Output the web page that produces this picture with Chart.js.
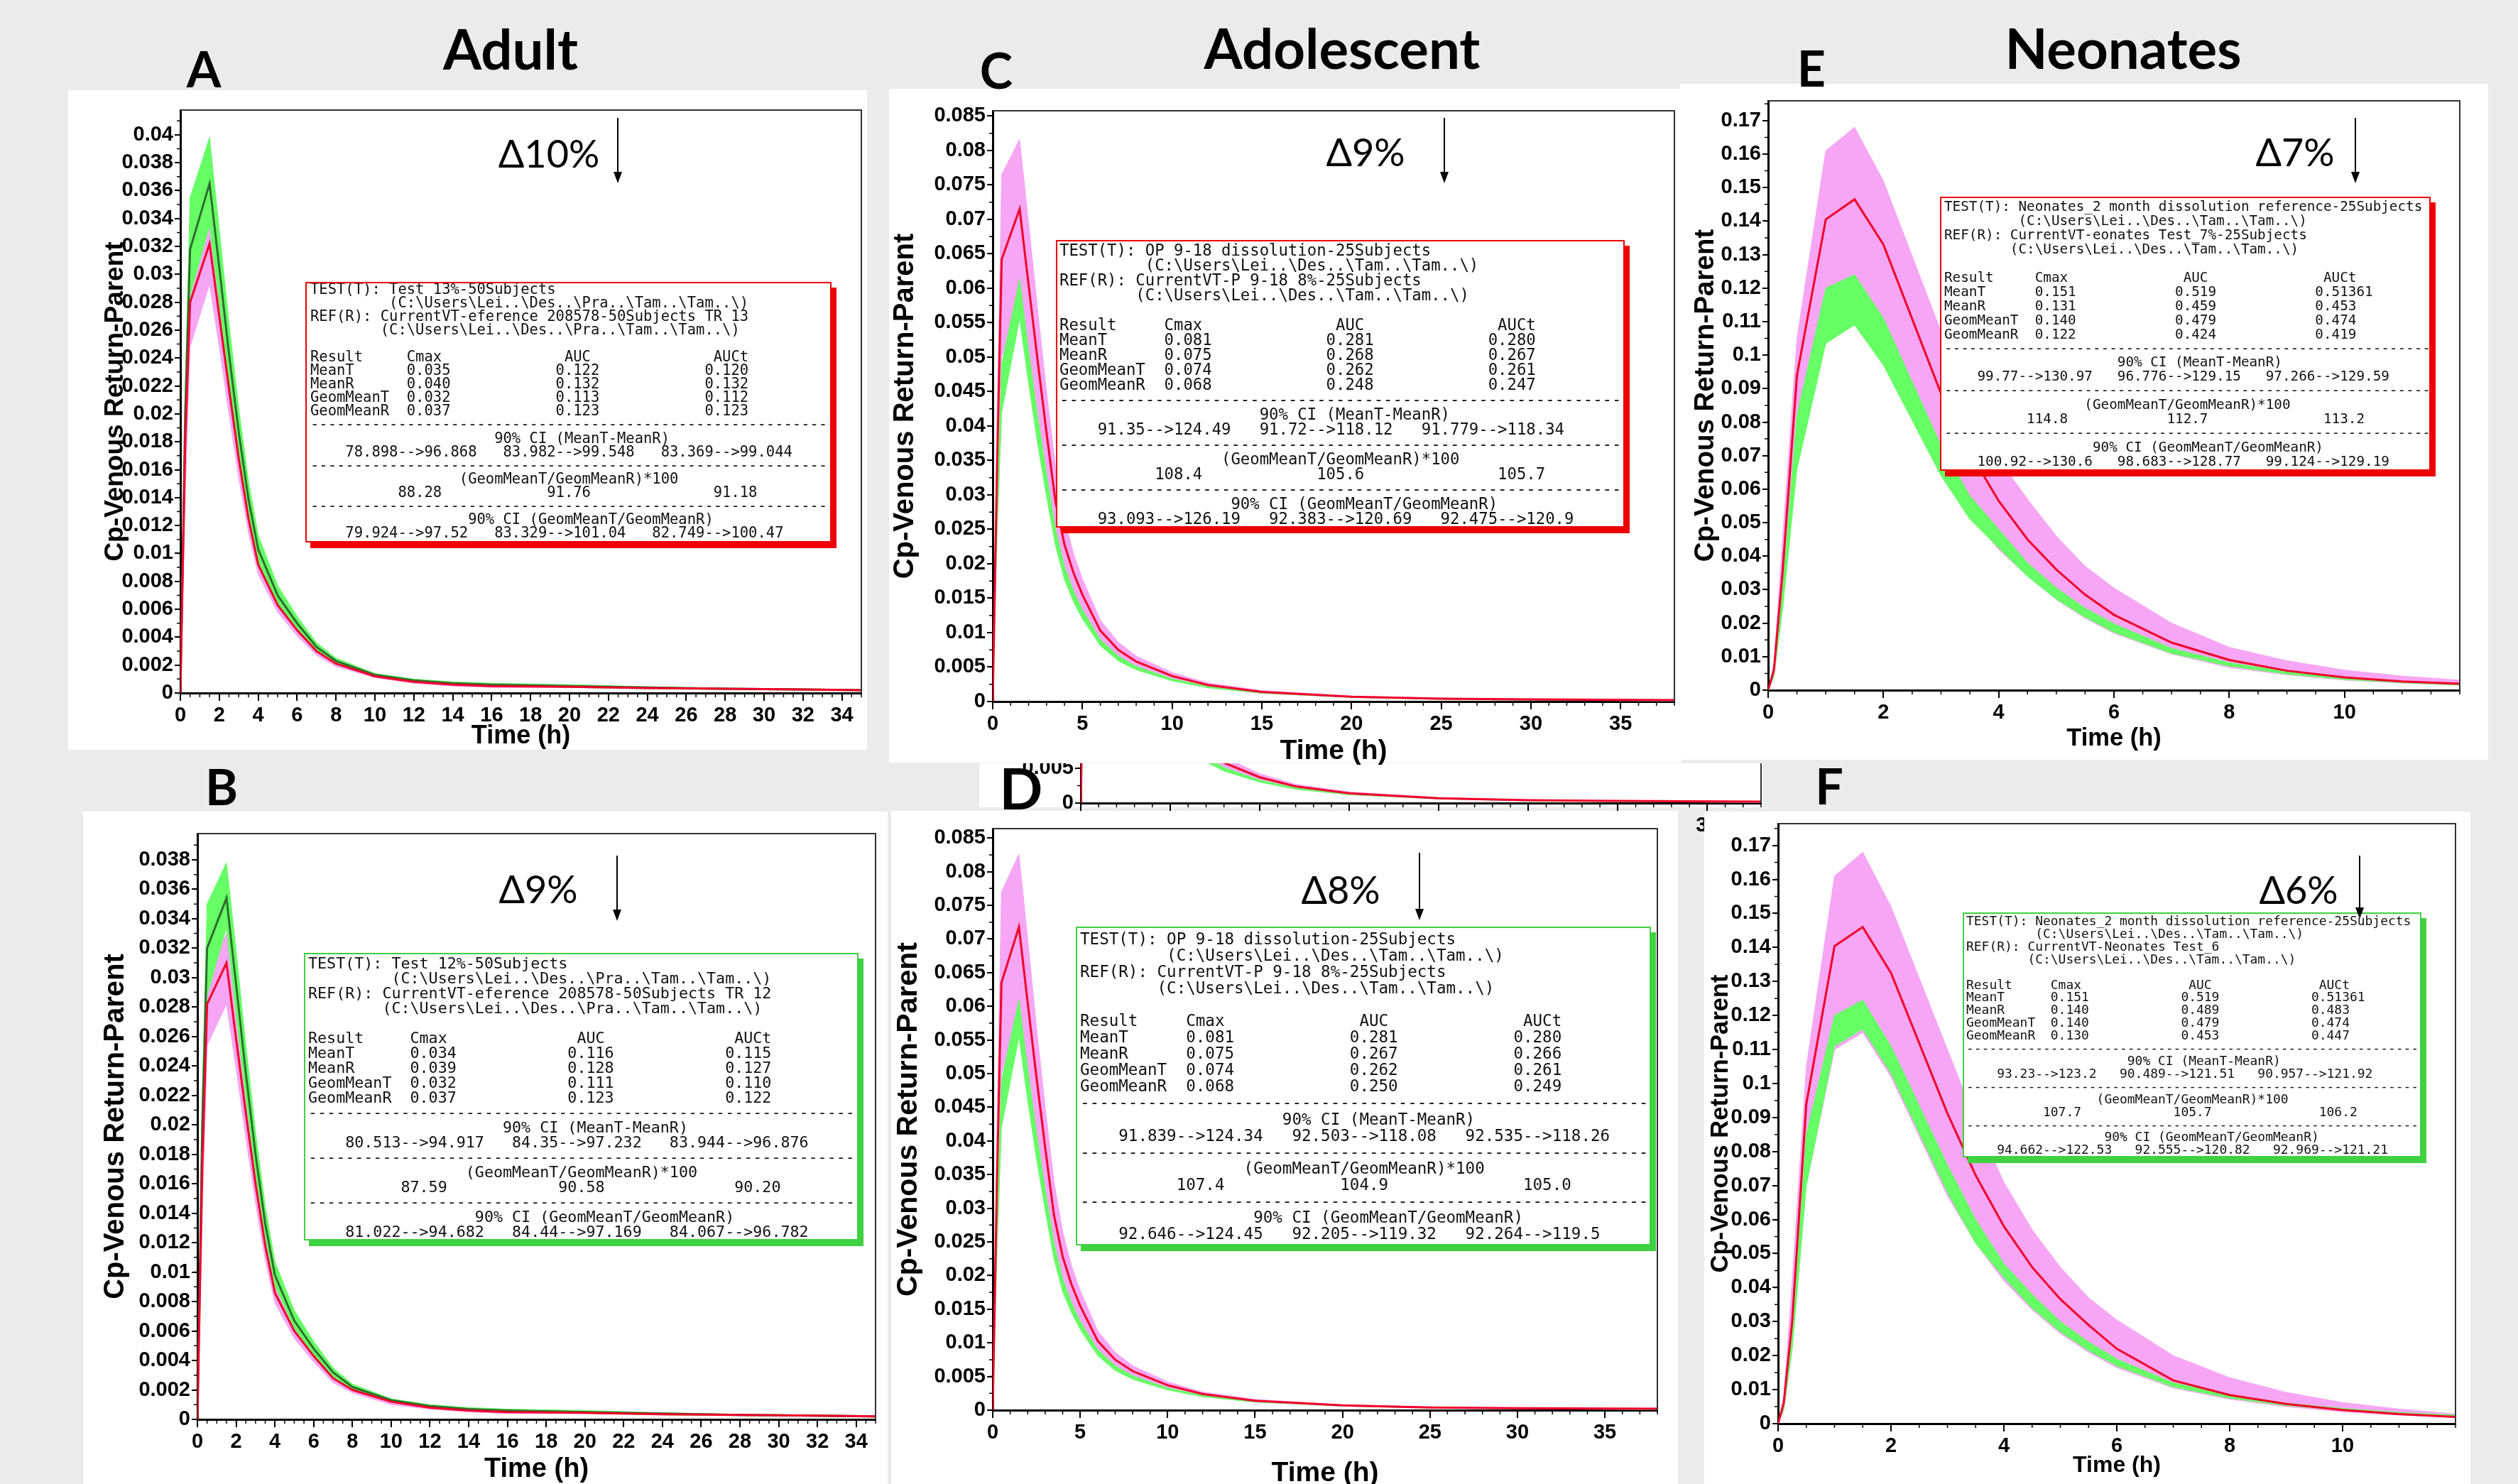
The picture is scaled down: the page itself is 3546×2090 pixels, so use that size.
<!DOCTYPE html>
<html>
<head>
<meta charset="utf-8">
<title>Cp-Venous Return-Parent</title>
<script src="https://cdn.jsdelivr.net/npm/chart.js"></script>
<style>
  html, body { margin: 0; padding: 0; }
  body { width: 3546px; height: 2090px; background: #ebebeb; position: relative; overflow: hidden; }
  .panel { position: absolute; background: #fff; }
  .abs { position: absolute; }
  .clip { position: absolute; overflow: hidden; }
  .head { position: absolute; transform: translate(-50%, -50%); font-family: Lato, 'Open Sans', sans-serif; font-weight: bold; line-height: 1; white-space: nowrap; color: #000; }
  .delta { position: absolute; transform: translate(-50%, -50%); font-family: Lato, 'Noto Sans', sans-serif; font-size: 54px; line-height: 1; white-space: nowrap; color: #000; }
  .stat { position: absolute; background: #fff; box-sizing: border-box; overflow: hidden; }
  .stat pre { margin: 0; position: absolute; font-family: 'DejaVu Sans Mono', monospace; color: #111; white-space: pre; }
</style>
</head>
<body>
<!-- white backgrounds of the six panels -->
<div class="panel" style="left:96px;top:127px;width:1125px;height:929px"></div>
<div class="panel" style="left:1252px;top:125px;width:1116px;height:949px"></div>
<div class="panel" style="left:2366px;top:118px;width:1138px;height:952px"></div>
<div class="panel" style="left:117px;top:1143px;width:1133px;height:947px"></div>
<div class="panel" style="left:1379px;top:1075px;width:1103px;height:62px"></div>
<div id="strip" class="clip" style="left:1379px;top:1075px;width:1121px;height:105px"></div>
<div class="panel" style="left:1255px;top:1142px;width:1108px;height:948px"></div>
<div class="panel" style="left:2400px;top:1143px;width:1079px;height:947px"></div>
<div id="charts"></div>
<div id="notes"></div>

<script>
// Time points (h) for each group of panels
const timeAB = [0, 0.25, 0.5, 1.5, 2, 2.5, 3, 3.5, 4, 5, 6, 7, 8, 10, 12, 14, 16, 20, 24, 28, 32, 35];
const timeCD = [0, 0.25, 0.5, 1.5, 2, 2.5, 3, 3.5, 4, 4.5, 5, 6, 7, 8, 10, 12, 15, 20, 25, 30, 38];
const timeEF = [0, 0.1, 0.25, 0.5, 1, 1.5, 2, 3, 3.5, 4, 4.5, 5, 5.5, 6, 7, 8, 9, 10, 11, 12];

// Panel A (Adult, test 13%)
const redA = [0, 0.018, 0.028, 0.0322, 0.027, 0.0218, 0.0168, 0.0125, 0.0092, 0.0063, 0.0045, 0.003, 0.0021, 0.0012, 0.0008, 0.0006, 0.0005, 0.00045, 0.00035, 0.0003, 0.00025, 0.0002];
const greenMeanA = [0, 0.02, 0.0318, 0.0365, 0.0305, 0.0243, 0.0187, 0.0139, 0.0103, 0.007, 0.005, 0.0033, 0.0023, 0.0013, 0.0009, 0.0007, 0.0006, 0.0005, 0.0004, 0.0003, 0.00025, 0.0002];
const greenHiA = [0, 0.022, 0.0355, 0.0398, 0.0332, 0.0265, 0.0204, 0.0152, 0.0113, 0.0077, 0.0055, 0.0036, 0.0025, 0.0014, 0.001, 0.0008, 0.0007, 0.0006, 0.00045, 0.00035, 0.0003, 0.00025];
const greenLoA = [0, 0.017, 0.0285, 0.0335, 0.028, 0.0222, 0.0171, 0.0127, 0.0094, 0.0064, 0.0046, 0.003, 0.0021, 0.0012, 0.0008, 0.0006, 0.0005, 0.0004, 0.0003, 0.00025, 0.0002, 0.00015];
const pinkHiA = [0, 0.019, 0.0305, 0.0348, 0.0292, 0.0236, 0.0182, 0.0135, 0.0099, 0.0068, 0.0048, 0.0032, 0.0022, 0.0013, 0.0009, 0.0007, 0.0006, 0.0005, 0.0004, 0.0003, 0.00025, 0.0002];
const pinkLoA = [0, 0.014, 0.0248, 0.0293, 0.0248, 0.02, 0.0154, 0.0115, 0.0085, 0.0058, 0.0041, 0.0027, 0.0019, 0.0011, 0.0007, 0.0005, 0.0004, 0.0004, 0.0003, 0.00025, 0.0002, 0.00015];

// Panel B (Adult, test 12%)
const redB = [0, 0.017, 0.0282, 0.031, 0.0258, 0.0208, 0.016, 0.0118, 0.0086, 0.006, 0.0043, 0.0028, 0.002, 0.0012, 0.0008, 0.0006, 0.0005, 0.00045, 0.00035, 0.0003, 0.00025, 0.0002];
const greenMeanB = [0, 0.02, 0.032, 0.0354, 0.0295, 0.0235, 0.018, 0.0133, 0.0098, 0.0067, 0.0048, 0.0032, 0.0022, 0.0013, 0.0009, 0.0007, 0.0006, 0.0005, 0.0004, 0.0003, 0.00025, 0.0002];
const greenHiB = [0, 0.022, 0.035, 0.0378, 0.0318, 0.0254, 0.0195, 0.0145, 0.0107, 0.0074, 0.0053, 0.0035, 0.0024, 0.0014, 0.001, 0.0008, 0.0007, 0.0006, 0.00045, 0.00035, 0.0003, 0.00025];
const greenLoB = [0, 0.017, 0.0288, 0.0334, 0.0275, 0.0218, 0.0167, 0.0124, 0.0091, 0.0062, 0.0044, 0.0029, 0.002, 0.0012, 0.0008, 0.0006, 0.0005, 0.0004, 0.0003, 0.00025, 0.0002, 0.00015];
const pinkHiB = [0, 0.019, 0.03, 0.033, 0.0278, 0.0225, 0.0173, 0.0128, 0.0094, 0.0065, 0.0046, 0.0031, 0.0021, 0.0013, 0.0009, 0.0007, 0.0006, 0.0005, 0.0004, 0.0003, 0.00025, 0.0002];
const pinkLoB = [0, 0.014, 0.0254, 0.0282, 0.0238, 0.0191, 0.0147, 0.0108, 0.0079, 0.0055, 0.0039, 0.0025, 0.0018, 0.001, 0.0007, 0.0005, 0.0004, 0.0004, 0.0003, 0.00025, 0.0002, 0.00015];

// Panel C (Adolescent)
const redC = [0, 0.035, 0.0642, 0.0715, 0.0605, 0.0496, 0.039, 0.029, 0.0228, 0.0187, 0.0155, 0.0103, 0.0075, 0.0058, 0.0037, 0.0024, 0.0014, 0.0007, 0.0004, 0.0003, 0.0002];
const pinkHiC = [0, 0.042, 0.0765, 0.0816, 0.0695, 0.057, 0.045, 0.034, 0.0265, 0.0215, 0.0178, 0.0118, 0.0086, 0.0066, 0.0042, 0.0027, 0.0016, 0.0008, 0.0005, 0.0003, 0.0002];
const pinkLoC = [0, 0.028, 0.05, 0.058, 0.049, 0.04, 0.031, 0.0235, 0.0185, 0.0152, 0.0126, 0.0085, 0.0062, 0.0048, 0.0031, 0.002, 0.0012, 0.0006, 0.0003, 0.0002, 0.0001];
const greenHiC = [0, 0.03, 0.049, 0.0613, 0.051, 0.0415, 0.033, 0.025, 0.0196, 0.0161, 0.0133, 0.009, 0.0066, 0.0051, 0.0033, 0.0022, 0.0013, 0.0007, 0.0004, 0.0003, 0.0002];
const greenLoC = [0, 0.025, 0.042, 0.0556, 0.0462, 0.0375, 0.0298, 0.0226, 0.0177, 0.0145, 0.012, 0.0081, 0.0059, 0.0046, 0.003, 0.002, 0.0012, 0.0006, 0.0003, 0.0002, 0.0001];

// Panel D (Adolescent, second test)
const redD = [0, 0.035, 0.0635, 0.0718, 0.0605, 0.0495, 0.039, 0.029, 0.0228, 0.0187, 0.0155, 0.0103, 0.0075, 0.0058, 0.0037, 0.0024, 0.0014, 0.0007, 0.0004, 0.0003, 0.0002];
const pinkHiD = [0, 0.043, 0.077, 0.0826, 0.07, 0.057, 0.045, 0.034, 0.0265, 0.0215, 0.0178, 0.0118, 0.0086, 0.0066, 0.0042, 0.0027, 0.0016, 0.0008, 0.0005, 0.0003, 0.0002];
const pinkLoD = [0, 0.027, 0.05, 0.058, 0.049, 0.04, 0.031, 0.0235, 0.0185, 0.0152, 0.0126, 0.0085, 0.0062, 0.0048, 0.0031, 0.002, 0.0012, 0.0006, 0.0003, 0.0002, 0.0001];
const greenHiD = [0, 0.03, 0.049, 0.061, 0.0508, 0.0413, 0.0328, 0.0249, 0.0195, 0.016, 0.0132, 0.009, 0.0066, 0.0051, 0.0033, 0.0022, 0.0013, 0.0007, 0.0004, 0.0003, 0.0002];
const greenLoD = [0, 0.024, 0.042, 0.0555, 0.046, 0.0374, 0.0297, 0.0225, 0.0176, 0.0145, 0.012, 0.0081, 0.0059, 0.0046, 0.003, 0.002, 0.0012, 0.0006, 0.0003, 0.0002, 0.0001];

// Panel E (Neonates, 7%)
const redE = [0, 0.006, 0.035, 0.094, 0.1405, 0.1465, 0.133, 0.0885, 0.071, 0.0565, 0.045, 0.036, 0.0285, 0.0225, 0.0142, 0.009, 0.0058, 0.0038, 0.0026, 0.0019];
const pinkHiE = [0, 0.008, 0.045, 0.105, 0.161, 0.168, 0.152, 0.107, 0.087, 0.069, 0.057, 0.046, 0.037, 0.0305, 0.02, 0.0128, 0.0088, 0.006, 0.0042, 0.003];
const pinkLoE = [0, 0.004, 0.025, 0.07, 0.104, 0.109, 0.098, 0.066, 0.052, 0.042, 0.034, 0.027, 0.0215, 0.017, 0.0108, 0.0068, 0.0046, 0.003, 0.0021, 0.0015];
const greenHiE = [0, 0.005, 0.03, 0.082, 0.12, 0.124, 0.111, 0.073, 0.058, 0.048, 0.038, 0.0305, 0.0245, 0.0198, 0.0125, 0.0082, 0.0055, 0.0037, 0.0025, 0.0018];
const greenLoE = [0, 0.004, 0.024, 0.066, 0.1035, 0.109, 0.097, 0.064, 0.051, 0.0425, 0.034, 0.0272, 0.0218, 0.0173, 0.011, 0.0072, 0.0048, 0.0032, 0.0022, 0.0015];

// Panel F (Neonates, 6%)
const redF = [0, 0.006, 0.03, 0.094, 0.1404, 0.146, 0.1325, 0.0912, 0.073, 0.058, 0.046, 0.0366, 0.029, 0.022, 0.0127, 0.0084, 0.0058, 0.004, 0.0028, 0.002];
const pinkHiF = [0, 0.008, 0.042, 0.105, 0.161, 0.168, 0.152, 0.11, 0.089, 0.071, 0.057, 0.046, 0.037, 0.0305, 0.02, 0.0135, 0.0092, 0.0062, 0.0043, 0.0028];
const pinkLoF = [0, 0.004, 0.022, 0.07, 0.11, 0.115, 0.102, 0.067, 0.053, 0.042, 0.0335, 0.0265, 0.021, 0.0165, 0.0105, 0.0072, 0.005, 0.0035, 0.0025, 0.0018];
const greenHiF = [0, 0.005, 0.028, 0.085, 0.12, 0.1245, 0.111, 0.076, 0.06, 0.047, 0.038, 0.03, 0.024, 0.019, 0.012, 0.0085, 0.006, 0.0045, 0.0033, 0.0025];
const greenLoF = [0, 0.004, 0.022, 0.07, 0.111, 0.116, 0.103, 0.068, 0.053, 0.043, 0.034, 0.027, 0.0215, 0.017, 0.0108, 0.0075, 0.0053, 0.004, 0.0029, 0.0021];

// Tick labels
const xTicksAB = [0, 2, 4, 6, 8, 10, 12, 14, 16, 18, 20, 22, 24, 26, 28, 30, 32, 34];
const xTicksCD = [0, 5, 10, 15, 20, 25, 30, 35];
const xTicksEF = [0, 2, 4, 6, 8, 10];
const yTicksA = [0, 0.002, 0.004, 0.006, 0.008, 0.01, 0.012, 0.014, 0.016, 0.018, 0.02, 0.022, 0.024, 0.026, 0.028, 0.03, 0.032, 0.034, 0.036, 0.038, 0.04];
const yTicksB = [0, 0.002, 0.004, 0.006, 0.008, 0.01, 0.012, 0.014, 0.016, 0.018, 0.02, 0.022, 0.024, 0.026, 0.028, 0.03, 0.032, 0.034, 0.036, 0.038];
const yTicksCD = [0, 0.005, 0.01, 0.015, 0.02, 0.025, 0.03, 0.035, 0.04, 0.045, 0.05, 0.055, 0.06, 0.065, 0.07, 0.075, 0.08, 0.085];
const yTicksEF = [0, 0.01, 0.02, 0.03, 0.04, 0.05, 0.06, 0.07, 0.08, 0.09, 0.1, 0.11, 0.12, 0.13, 0.14, 0.15, 0.16, 0.17];

const RED = '#f2002b';
const DKGREEN = '#2e6e2e';
const GREEN = '#66ff66';
const PINK = '#f6a6f4';
const BOX_RED = '#ee0000';
const BOX_GREEN = '#3fd13f';

// Frame on top/right of the plot and the small minor ticks
const frameTicks = {
    id: 'frameTicks',
    afterDraw(chart, args, opts) {
        const ctx = chart.ctx;
        const a = chart.chartArea;
        const x = chart.scales.x;
        const y = chart.scales.y;
        ctx.save();
        ctx.strokeStyle = '#333';
        ctx.lineWidth = 2;
        ctx.beginPath();
        ctx.moveTo(a.left, a.top);
        ctx.lineTo(a.right, a.top);
        ctx.lineTo(a.right, a.bottom);
        ctx.stroke();
        ctx.strokeStyle = '#000';
        ctx.lineWidth = 1.5;
        ctx.beginPath();
        for (let v = 0; v <= x.max + 1e-9; v += opts.xMinor) {
            const px = x.getPixelForValue(v);
            ctx.moveTo(px, a.bottom);
            ctx.lineTo(px, a.bottom + 6);
        }
        for (let v = 0; v <= y.max + 1e-9; v += opts.yMinor) {
            const py = y.getPixelForValue(v);
            ctx.moveTo(a.left, py);
            ctx.lineTo(a.left - 5, py);
        }
        ctx.stroke();
        ctx.restore();
    }
};
Chart.register(frameTicks);

function lineSet(t, v, color, width, order) {
    return { data: t.map((x, i) => ({ x: x, y: v[i] })), borderColor: color, borderWidth: width,
             pointRadius: 0, tension: 0, fill: false, order: order };
}

// upper edge fills down to the lower edge (next dataset)
function bandSets(t, hi, lo, color, order, index) {
    return [
        { data: t.map((x, i) => ({ x: x, y: hi[i] })), borderColor: color, borderWidth: 1, backgroundColor: color,
          pointRadius: 0, tension: 0, fill: index + 1, order: order },
        { data: t.map((x, i) => ({ x: x, y: lo[i] })), borderColor: color, borderWidth: 1,
          pointRadius: 0, tension: 0, fill: false, order: order }
    ];
}

const tickFont = { family: "'Liberation Sans', Arial, sans-serif", size: 29, weight: 'bold' };

function drawChart(p, parent, offX, offY) {
    const left = Math.round(p.yTitleX - 0.6 * p.ySize);
    const top = p.plot[1] - 30;
    const right = p.plot[2] + 14;
    const bottom = Math.round(p.xTitleY + 0.6 * p.xSize);
    const holder = document.createElement('div');
    holder.className = 'abs';
    holder.style.left = (left - offX) + 'px';
    holder.style.top = (top - offY) + 'px';
    const canvas = document.createElement('canvas');
    canvas.width = right - left;
    canvas.height = bottom - top;
    canvas.style.width = (right - left) + 'px';
    canvas.style.height = (bottom - top) + 'px';
    holder.appendChild(canvas);
    parent.appendChild(holder);

    const datasets = [lineSet(p.t, p.red, RED, 3, 0)];
    if (p.greenMean) datasets.push(lineSet(p.t, p.greenMean, DKGREEN, 3, 1));
    let n = datasets.length;
    datasets.push(...bandSets(p.t, p.gHi, p.gLo, GREEN, 2, n));
    n += 2;
    datasets.push(...bandSets(p.t, p.pHi, p.pLo, PINK, 3, n));

    new Chart(canvas, {
        type: 'line',
        data: { datasets: datasets },
        options: {
            responsive: false,
            animation: false,
            devicePixelRatio: 1,
            events: [],
            layout: { padding: { top: 30, right: 14, left: 0, bottom: 0 } },
            plugins: {
                legend: { display: false },
                tooltip: { enabled: false },
                frameTicks: { xMinor: p.xMinor, yMinor: p.yMinor }
            },
            scales: {
                x: {
                    type: 'linear', min: 0, max: p.xMax,
                    afterFit: s => { s.height = bottom - p.plot[3]; },
                    afterBuildTicks: s => { s.ticks = p.xTicks.map(v => ({ value: v })); },
                    ticks: { autoSkip: false, maxRotation: 0, padding: 4, color: '#000', font: tickFont },
                    grid: { drawOnChartArea: false, drawTicks: true, tickLength: 11, color: '#000', lineWidth: 2 },
                    border: { display: true, color: '#000', width: 3 },
                    title: { display: true, text: 'Time (h)', color: '#000', padding: 0,
                             font: { family: tickFont.family, size: p.xSize, weight: 'bold' } }
                },
                y: {
                    type: 'linear', min: 0, max: p.yMax,
                    afterFit: s => { s.width = p.plot[0] - left; },
                    afterBuildTicks: s => { s.ticks = p.yTicks.map(v => ({ value: v })); },
                    ticks: { autoSkip: false, padding: 2, color: '#000', font: tickFont,
                             callback: v => String(+(+v).toFixed(4)) },
                    grid: { drawOnChartArea: false, drawTicks: true, tickLength: 8, color: '#000', lineWidth: 2 },
                    border: { display: true, color: '#000', width: 3 },
                    title: { display: true, text: 'Cp-Venous Return-Parent', color: '#000', padding: 0,
                             font: { family: tickFont.family, size: p.ySize, weight: 'bold' } }
                }
            }
        }
    });
}

const panels = [
    { plot: [254, 155, 1213, 976], yTitleX: 163, ySize: 37, xTitleY: 1037, xSize: 36, xMax: 35, yMax: 0.04177,
      xTicks: xTicksAB, yTicks: yTicksA, xMinor: 0.5, yMinor: 0.001,
      t: timeAB, red: redA, greenMean: greenMeanA, gHi: greenHiA, gLo: greenLoA, pHi: pinkHiA, pLo: pinkLoA },
    { plot: [1398, 156, 2358, 988], yTitleX: 1275, ySize: 40, xTitleY: 1059, xSize: 39, xMax: 38, yMax: 0.08576,
      xTicks: xTicksCD, yTicks: yTicksCD, xMinor: 1, yMinor: 0.0025,
      t: timeCD, red: redC, gHi: greenHiC, gLo: greenLoC, pHi: pinkHiC, pLo: pinkLoC },
    { plot: [2490, 142, 3464, 972], yTitleX: 2402, ySize: 38.5, xTitleY: 1040, xSize: 34.5, xMax: 12, yMax: 0.1759,
      xTicks: xTicksEF, yTicks: yTicksEF, xMinor: 0.5, yMinor: 0.005,
      t: timeEF, red: redE, gHi: greenHiE, gLo: greenLoE, pHi: pinkHiE, pLo: pinkLoE },
    { plot: [278, 1174, 1233, 1999], yTitleX: 163, ySize: 40, xTitleY: 2069, xSize: 38, xMax: 35, yMax: 0.03978,
      xTicks: xTicksAB, yTicks: yTicksB, xMinor: 0.5, yMinor: 0.001,
      t: timeAB, red: redB, greenMean: greenMeanB, gHi: greenHiB, gLo: greenLoB, pHi: pinkHiB, pLo: pinkLoB },
    { plot: [1398, 1167, 2334, 1986], yTitleX: 1280, ySize: 41, xTitleY: 2076, xSize: 39, xMax: 38, yMax: 0.0864,
      xTicks: xTicksCD, yTicks: yTicksCD, xMinor: 1, yMinor: 0.0025,
      t: timeCD, red: redD, gHi: greenHiD, gLo: greenLoD, pHi: pinkHiD, pLo: pinkLoD },
    { plot: [2504, 1160, 3458, 2005], yTitleX: 2424, ySize: 34.5, xTitleY: 2064, xSize: 32, xMax: 12, yMax: 0.1764,
      xTicks: xTicksEF, yTicks: yTicksEF, xMinor: 0.5, yMinor: 0.005,
      t: timeEF, red: redF, gHi: greenHiF, gLo: greenLoF, pHi: pinkHiF, pLo: pinkLoF }
];

// the stray strip of another chart pasted between C and D
const stripPanel = { plot: [1522, 284, 2480, 1131], yTitleX: 1402, ySize: 40, xTitleY: 1216, xSize: 39, xMax: 38, yMax: 0.0864,
      xTicks: xTicksCD, yTicks: yTicksCD, xMinor: 1, yMinor: 0.0025,
      t: timeCD, red: redD, gHi: greenHiD, gLo: greenLoD, pHi: pinkHiD, pLo: pinkLoD };

drawChart(stripPanel, document.getElementById('strip'), 1379, 1075);
const chartLayer = document.getElementById('charts');
panels.forEach(p => drawChart(p, chartLayer, 0, 0));

// Statistics boxes
const PATH_PRA = '(C:\\Users\\Lei..\\Des..\\Pra..\\Tam..\\Tam..\\)';
const PATH_TAM = '(C:\\Users\\Lei..\\Des..\\Tam..\\Tam..\\)';

function statLines(test, ref, path, rows, ciMean, ratio, ciGeom) {
    const dash = '-'.repeat(64);
    return [
        'TEST(T): ' + test,
        ' '.repeat(9) + path,
        'REF(R): ' + ref,
        ' '.repeat(8) + path,
        '',
        'Result'.padEnd(11) + 'Cmax'.padEnd(18) + 'AUC'.padEnd(17) + 'AUCt',
        ...rows.map(r => r[0].padEnd(11) + r[1].padEnd(17) + r[2].padEnd(17) + r[3]),
        dash,
        ' '.repeat(21) + '90% CI (MeanT-MeanR)',
        '    ' + ciMean.join('   '),
        dash,
        ' '.repeat(17) + '(GeomMeanT/GeomMeanR)*100',
        ' '.repeat(10) + ratio[0].padEnd(17) + ratio[1].padEnd(19) + ratio[2],
        dash,
        ' '.repeat(18) + '90% CI (GeomMeanT/GeomMeanR)',
        '    ' + ciGeom.join('   ')
    ].join('\n');
}

const statA = statLines('Test 13%-50Subjects', 'CurrentVT-eference 208578-50Subjects TR 13', PATH_PRA,
    [['MeanT', '0.035', '0.122', '0.120'], ['MeanR', '0.040', '0.132', '0.132'],
     ['GeomMeanT', '0.032', '0.113', '0.112'], ['GeomMeanR', '0.037', '0.123', '0.123']],
    ['78.898-->96.868', '83.982-->99.548', '83.369-->99.044'], ['88.28', '91.76', '91.18'],
    ['79.924-->97.52', '83.329-->101.04', '82.749-->100.47']);
const statB = statLines('Test 12%-50Subjects', 'CurrentVT-eference 208578-50Subjects TR 12', PATH_PRA,
    [['MeanT', '0.034', '0.116', '0.115'], ['MeanR', '0.039', '0.128', '0.127'],
     ['GeomMeanT', '0.032', '0.111', '0.110'], ['GeomMeanR', '0.037', '0.123', '0.122']],
    ['80.513-->94.917', '84.35-->97.232', '83.944-->96.876'], ['87.59', '90.58', '90.20'],
    ['81.022-->94.682', '84.44-->97.169', '84.067-->96.782']);
const statC = statLines('OP 9-18 dissolution-25Subjects', 'CurrentVT-P 9-18 8%-25Subjects', PATH_TAM,
    [['MeanT', '0.081', '0.281', '0.280'], ['MeanR', '0.075', '0.268', '0.267'],
     ['GeomMeanT', '0.074', '0.262', '0.261'], ['GeomMeanR', '0.068', '0.248', '0.247']],
    ['91.35-->124.49', '91.72-->118.12', '91.779-->118.34'], ['108.4', '105.6', '105.7'],
    ['93.093-->126.19', '92.383-->120.69', '92.475-->120.9']);
const statD = statLines('OP 9-18 dissolution-25Subjects', 'CurrentVT-P 9-18 8%-25Subjects', PATH_TAM,
    [['MeanT', '0.081', '0.281', '0.280'], ['MeanR', '0.075', '0.267', '0.266'],
     ['GeomMeanT', '0.074', '0.262', '0.261'], ['GeomMeanR', '0.068', '0.250', '0.249']],
    ['91.839-->124.34', '92.503-->118.08', '92.535-->118.26'], ['107.4', '104.9', '105.0'],
    ['92.646-->124.45', '92.205-->119.32', '92.264-->119.5']);
const statE = statLines('Neonates_2 month dissolution reference-25Subjects', 'CurrentVT-eonates Test_7%-25Subjects', PATH_TAM,
    [['MeanT', '0.151', '0.519', '0.51361'], ['MeanR', '0.131', '0.459', '0.453'],
     ['GeomMeanT', '0.140', '0.479', '0.474'], ['GeomMeanR', '0.122', '0.424', '0.419']],
    ['99.77-->130.97', '96.776-->129.15', '97.266-->129.59'], ['114.8', '112.7', '113.2'],
    ['100.92-->130.6', '98.683-->128.77', '99.124-->129.19']);
const statF = statLines('Neonates_2 month dissolution reference-25Subjects', 'CurrentVT-Neonates Test_6', PATH_TAM,
    [['MeanT', '0.151', '0.519', '0.51361'], ['MeanR', '0.140', '0.489', '0.483'],
     ['GeomMeanT', '0.140', '0.479', '0.474'], ['GeomMeanR', '0.130', '0.453', '0.447']],
    ['93.23-->123.2', '90.489-->121.51', '90.957-->121.92'], ['107.7', '105.7', '106.2'],
    ['94.662-->122.53', '92.555-->120.82', '92.969-->121.21']);

const boxes = [
    { box: [430, 397, 1171, 764], text: [437, 397.5], cw: 12.35, lh: 19.1, color: BOX_RED, lines: statA },
    { box: [1487, 338, 2288, 743], text: [1492, 341.5], cw: 13.42, lh: 21.05, color: BOX_RED, lines: statC },
    { box: [2732, 277, 3423, 663], text: [2738, 281], cw: 11.62, lh: 19.95, color: BOX_RED, lines: statE },
    { box: [428, 1342, 1209, 1747], text: [434, 1345.5], cw: 13.05, lh: 21.0, color: BOX_GREEN, lines: statB },
    { box: [1515, 1305, 2325, 1754], text: [1521, 1310.5], cw: 13.57, lh: 23.1, color: BOX_GREEN, lines: statD },
    { box: [2764, 1285, 3410, 1630], text: [2769, 1288], cw: 10.8, lh: 17.9, color: BOX_GREEN, lines: statF }
];

const notes = document.getElementById('notes');
boxes.forEach(b => {
    const div = document.createElement('div');
    div.className = 'stat';
    div.style.left = b.box[0] + 'px';
    div.style.top = b.box[1] + 'px';
    div.style.width = (b.box[2] - b.box[0]) + 'px';
    div.style.height = (b.box[3] - b.box[1]) + 'px';
    div.style.border = '2px solid ' + b.color;
    div.style.boxShadow = '7px 8px 0 0 ' + b.color;
    div.style.overflow = 'visible';
    const inner = document.createElement('div');
    inner.style.cssText = 'position:absolute;left:0;top:0;right:0;bottom:0;overflow:hidden;';
    const pre = document.createElement('pre');
    pre.textContent = b.lines;
    pre.style.left = (b.text[0] - b.box[0] - 2) + 'px';
    pre.style.top = (b.text[1] - b.box[1] - 2) + 'px';
    pre.style.fontSize = (b.cw / 0.602).toFixed(2) + 'px';
    pre.style.lineHeight = b.lh + 'px';
    inner.appendChild(pre);
    div.appendChild(inner);
    notes.appendChild(div);
});

// Titles, panel letters, delta labels and arrows
const heads = [
    ['Adult', 719, 68, 78], ['Adolescent', 1890, 67, 78], ['Neonates', 2990, 67, 78],
    ['A', 287, 96, 70], ['C', 1403, 98, 70], ['E', 2551, 95, 70],
    ['B', 312, 1107, 70], ['D', 1438, 1109, 80], ['F', 2576, 1106, 70]
];
heads.forEach(h => {
    const d = document.createElement('div');
    d.className = 'head';
    d.textContent = h[0];
    d.style.left = h[1] + 'px';
    d.style.top = h[2] + 'px';
    d.style.fontSize = h[3] + 'px';
    notes.appendChild(d);
});

const deltas = [
    ['\u0394' + '10%', 773, 216, 870, 166, 258],
    ['\u0394' + '9%', 1923, 214, 2034, 166, 258],
    ['\u0394' + '7%', 3232, 214, 3317, 166, 258],
    ['\u0394' + '9%', 758, 1252, 869, 1205, 1297],
    ['\u0394' + '8%', 1888, 1253, 1999, 1201, 1296],
    ['\u0394' + '6%', 3237, 1253, 3323, 1205, 1294]
];
deltas.forEach(d => {
    const t = document.createElement('div');
    t.className = 'delta';
    t.textContent = d[0];
    t.style.left = d[1] + 'px';
    t.style.top = d[2] + 'px';
    notes.appendChild(t);
    const len = d[5] - d[4];
    const svg = document.createElementNS('http://www.w3.org/2000/svg', 'svg');
    svg.setAttribute('width', 20);
    svg.setAttribute('height', len);
    svg.style.position = 'absolute';
    svg.style.left = (d[3] - 10) + 'px';
    svg.style.top = d[4] + 'px';
    svg.innerHTML = '<line x1="10" y1="0" x2="10" y2="' + (len - 14) + '" stroke="#000" stroke-width="2"/>' +
        '<polygon points="4,' + (len - 16) + ' 16,' + (len - 16) + ' 10,' + len + '" fill="#000"/>';
    notes.appendChild(svg);
});
</script>
</body>
</html>
